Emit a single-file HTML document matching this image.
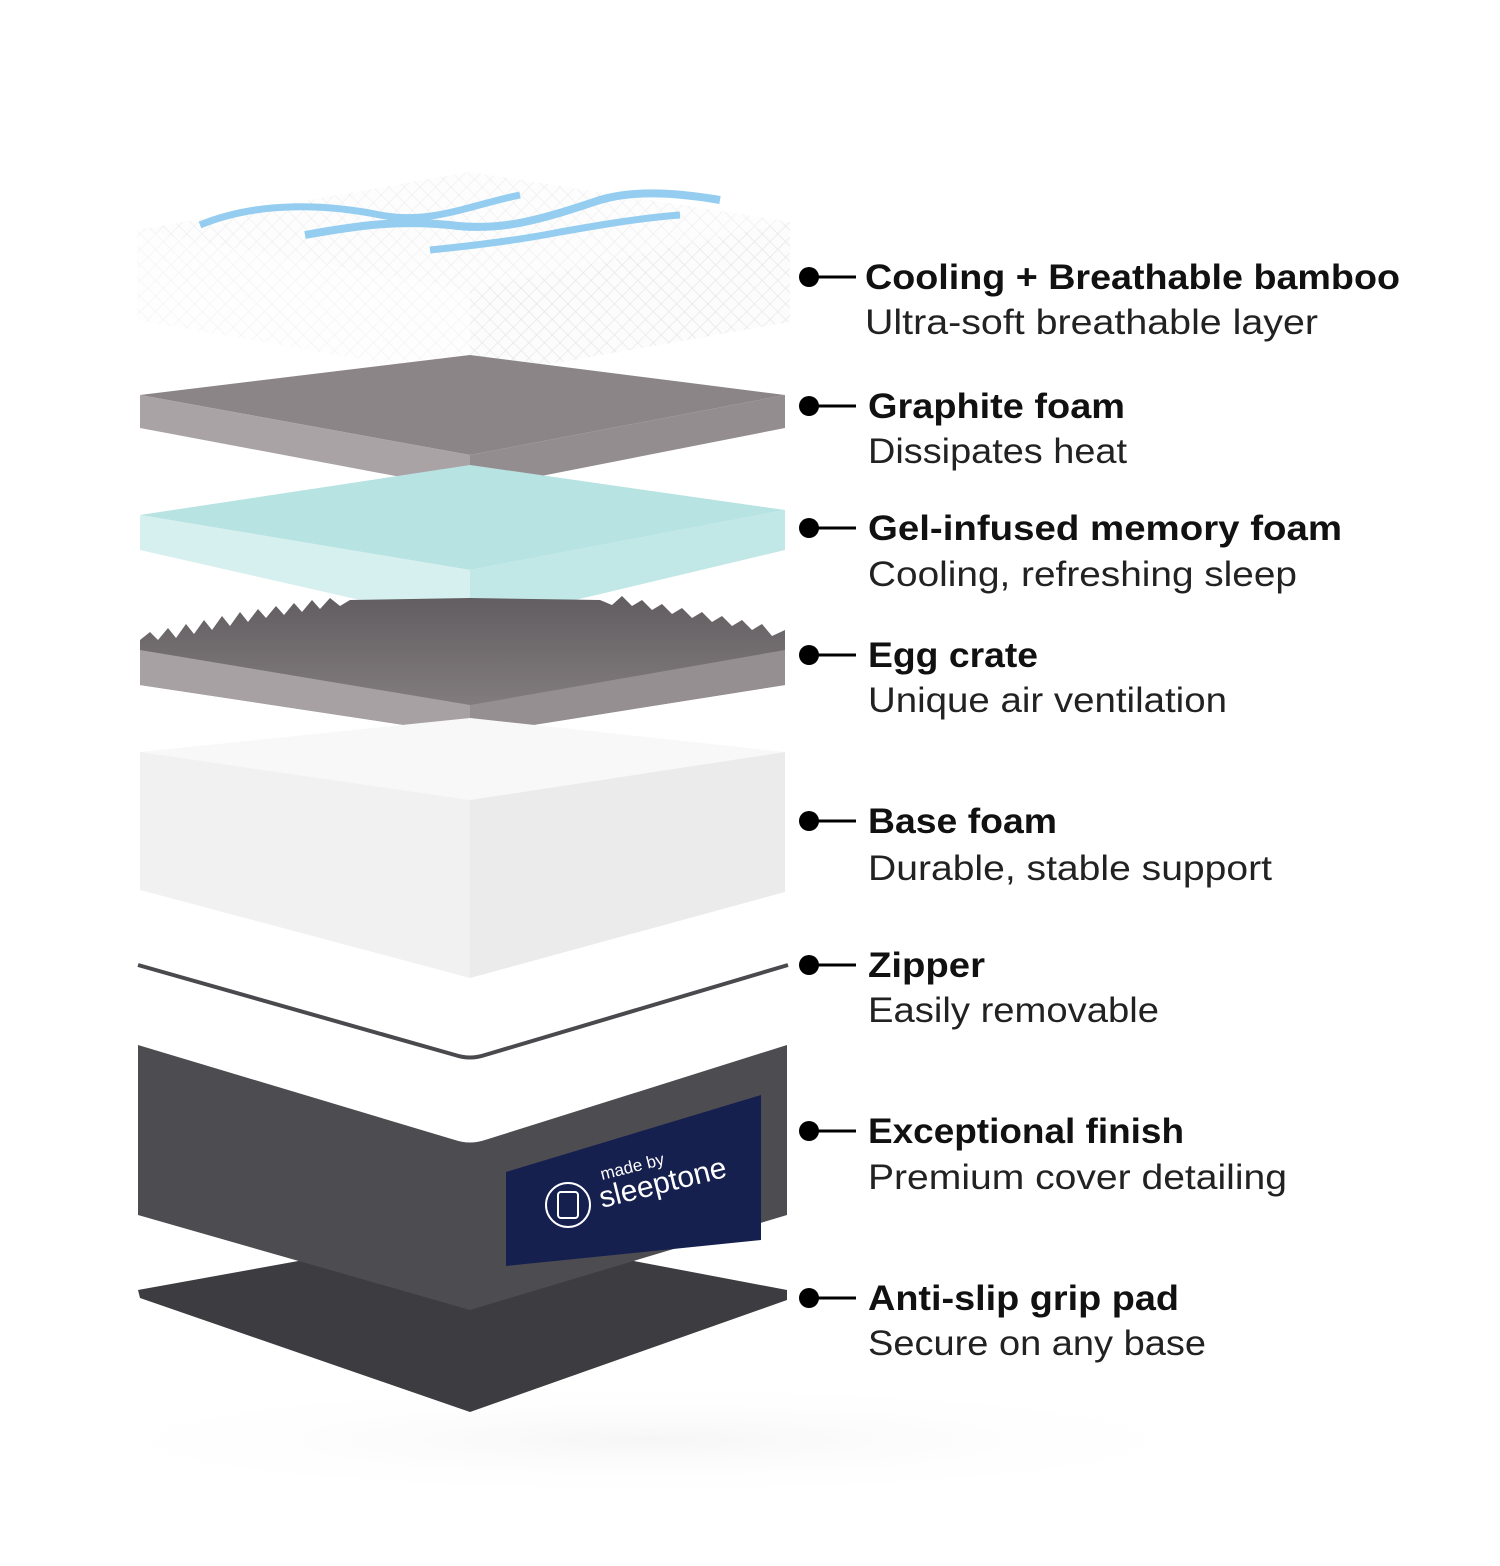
<!DOCTYPE html>
<html><head><meta charset="utf-8"><style>
html,body{margin:0;padding:0;background:#fff;}
svg{display:block}
</style></head><body>
<svg width="1500" height="1566" viewBox="0 0 1500 1566" xmlns="http://www.w3.org/2000/svg">
<defs>
<pattern id="quilt" width="11" height="11" patternUnits="userSpaceOnUse" patternTransform="rotate(45)">
<rect width="11" height="11" fill="#fcfcfc"/>
<path d="M0 0H11M0 0V11" stroke="#e4e4e4" stroke-width="1.2"/>
</pattern>
<linearGradient id="egg" x1="0" y1="0" x2="0" y2="1"><stop offset="0" stop-color="#625d60"/><stop offset="1" stop-color="#8a8486"/></linearGradient>
<radialGradient id="sh" cx="0.5" cy="0.5" r="0.5"><stop offset="0" stop-color="#f6f6f6"/><stop offset="1" stop-color="#fff" stop-opacity="0"/></radialGradient>
</defs>
<ellipse cx="650" cy="1440" rx="620" ry="60" fill="url(#sh)"/>

<!-- Top quilted layer -->
<polygon points="137,230 470,172 790,222 790,322 470,378 137,320" fill="url(#quilt)"/>
<polygon points="137,230 470,172 790,222 470,290" fill="#fff" opacity="0.35"/>
<polygon points="137,230 470,290 470,378 137,320" fill="#fff" opacity="0.55"/>
<path d="M200 225 C260 200 330 205 380 215 C430 225 470 205 520 195" stroke="#94cdef" stroke-width="7" fill="none"/>
<path d="M305 235 C360 225 400 220 450 225 C500 232 540 220 600 200 C640 188 690 195 720 200" stroke="#94cdef" stroke-width="8" fill="none"/>
<path d="M430 250 C480 245 520 240 560 232 C600 225 640 218 680 215" stroke="#94cdef" stroke-width="7" fill="none"/>

<!-- Graphite -->
<polygon points="140,395 470,355 785,395 470,455" fill="#8c8588"/>
<polygon points="140,395 470,455 470,490 140,428" fill="#aaa3a5"/>
<polygon points="470,455 785,395 785,428 470,490" fill="#948d8f"/>

<!-- Gel -->
<polygon points="140,515 470,465 785,510 470,570" fill="#b8e3e3"/>
<polygon points="140,515 470,570 470,625 140,550" fill="#d6efef"/>
<polygon points="470,570 785,510 785,550 470,625" fill="#c1e7e7"/>

<!-- Egg crate -->
<path d="M140,640 L150,632 158,640 168,628 176,638 186,624 194,634 204,620 212,630 222,616 230,626 240,612 248,622 258,609 266,618 276,606 284,615 294,603 302,612 312,600 320,609 330,598 340,606 350,600 470,598 600,600 612,605 622,596 632,606 642,600 652,610 662,604 672,614 682,608 692,618 702,612 712,622 722,616 732,626 742,620 752,630 762,624 772,636 785,630 785,685 470,735 140,685 Z" fill="url(#egg)"/>
<polygon points="140,650 470,705 470,735 140,685" fill="#a7a1a3"/>
<polygon points="470,705 785,650 785,685 470,735" fill="#958f91"/>

<!-- Base foam -->
<polygon points="140,752 470,718 785,752 470,800" fill="#f8f8f8"/>
<polygon points="140,752 470,800 470,978 140,890" fill="#f1f1f1"/>
<polygon points="470,800 785,752 785,892 470,978" fill="#ebebeb"/>

<!-- Zipper -->
<path d="M138,965 L455,1055 Q470,1060 485,1055 L788,965" stroke="#4a4a4e" stroke-width="4" fill="none"/>

<!-- Grip pad -->
<polygon points="138,1290 470,1230 787,1290 787,1300 470,1412 140,1298" fill="#3d3d41"/>

<!-- Cover -->
<path d="M138,1045 L455,1140 Q470,1145 485,1140 L787,1045 L787,1215 L470,1310 L138,1215 Z" fill="#4d4d51"/>
<polygon points="506,1172 761,1095 761,1240 506,1266" fill="#16204f"/>
<circle cx="568" cy="1205" r="22" fill="none" stroke="#fff" stroke-width="2"/>
<rect x="558" y="1192" width="20" height="26" rx="3" fill="none" stroke="#fff" stroke-width="2"/>
<text x="602" y="1180" font-family="Liberation Sans, sans-serif" font-size="17" fill="#fff" transform="rotate(-14 602 1180)">made by</text>
<text x="602" y="1208" font-family="Liberation Sans, sans-serif" font-size="30" fill="#fff" transform="rotate(-14 602 1208)">sleeptone</text>

<!-- Labels -->
<g font-family="Liberation Sans, sans-serif" fill="#111">
<g stroke="#000" stroke-width="3">
<line x1="808" y1="277" x2="856" y2="277"/><line x1="808" y1="406" x2="856" y2="406"/>
<line x1="808" y1="528" x2="856" y2="528"/><line x1="808" y1="655" x2="856" y2="655"/>
<line x1="808" y1="821" x2="856" y2="821"/><line x1="808" y1="965" x2="856" y2="965"/>
<line x1="808" y1="1131" x2="856" y2="1131"/><line x1="808" y1="1298" x2="856" y2="1298"/>
</g>
<g fill="#000">
<circle cx="809" cy="277" r="10"/><circle cx="809" cy="406" r="10"/><circle cx="809" cy="528" r="10"/>
<circle cx="809" cy="655" r="10"/><circle cx="809" cy="821" r="10"/><circle cx="809" cy="965" r="10"/>
<circle cx="809" cy="1131" r="10"/><circle cx="809" cy="1298" r="10"/>
</g>
<g font-size="35" font-weight="bold" lengthAdjust="spacingAndGlyphs">
<text x="865" y="289" textLength="535" lengthAdjust="spacingAndGlyphs">Cooling + Breathable bamboo</text>
<text x="868" y="418" textLength="257" lengthAdjust="spacingAndGlyphs">Graphite foam</text>
<text x="868" y="540" textLength="474" lengthAdjust="spacingAndGlyphs">Gel-infused memory foam</text>
<text x="868" y="667" textLength="170" lengthAdjust="spacingAndGlyphs">Egg crate</text>
<text x="868" y="833" textLength="189" lengthAdjust="spacingAndGlyphs">Base foam</text>
<text x="868" y="977" textLength="117" lengthAdjust="spacingAndGlyphs">Zipper</text>
<text x="868" y="1143" textLength="316" lengthAdjust="spacingAndGlyphs">Exceptional finish</text>
<text x="868" y="1310" textLength="311" lengthAdjust="spacingAndGlyphs">Anti-slip grip pad</text>
</g>
<g font-size="35" fill="#222">
<text x="865" y="334" textLength="453" lengthAdjust="spacingAndGlyphs">Ultra-soft breathable layer</text>
<text x="868" y="463" textLength="259" lengthAdjust="spacingAndGlyphs">Dissipates heat</text>
<text x="868" y="586" textLength="429" lengthAdjust="spacingAndGlyphs">Cooling, refreshing sleep</text>
<text x="868" y="712" textLength="359" lengthAdjust="spacingAndGlyphs">Unique air ventilation</text>
<text x="868" y="880" textLength="404" lengthAdjust="spacingAndGlyphs">Durable, stable support</text>
<text x="868" y="1022" textLength="291" lengthAdjust="spacingAndGlyphs">Easily removable</text>
<text x="868" y="1189" textLength="419" lengthAdjust="spacingAndGlyphs">Premium cover detailing</text>
<text x="868" y="1355" textLength="338" lengthAdjust="spacingAndGlyphs">Secure on any base</text>
</g>
</g>
</svg>
</body></html>
